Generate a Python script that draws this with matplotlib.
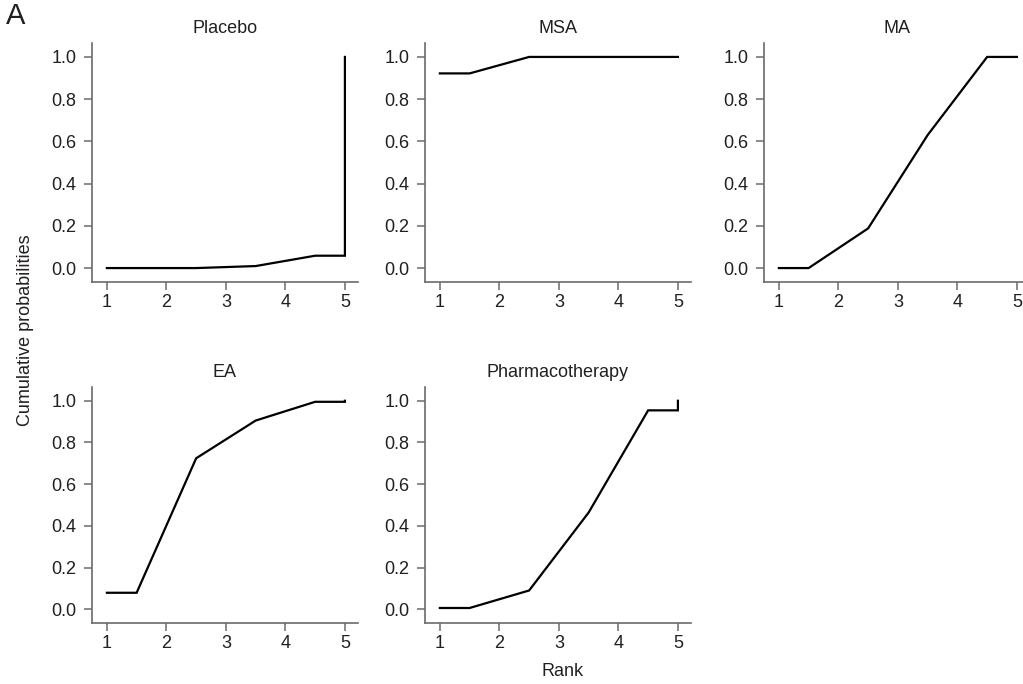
import numpy as np
import matplotlib
matplotlib.use("Agg")
import matplotlib.pyplot as plt

plt.rcParams['font.family'] = ['Liberation Sans', 'DejaVu Sans']

# Cumulative ranking probabilities (rank 1..5) for each treatment
treatments = ["Placebo", "MSA", "MA", "EA", "Pharmacotherapy"]
ranks = [1, 2, 3, 4, 5]
placebo = [0.0, 0.0, 0.0095, 0.0585, 1.0]
msa = [0.922, 1.0, 1.0, 1.0, 1.0]
ma = [0.0, 0.188, 0.63, 1.0, 1.0]
ea = [0.079, 0.724, 0.905, 0.995, 1.0]
pharmacotherapy = [0.006, 0.09, 0.464, 0.954, 1.0]
series = [placebo, msa, ma, ea, pharmacotherapy]
yticks = [0.0, 0.2, 0.4, 0.6, 0.8, 1.0]

W, H = 1023, 684
fig = plt.figure(figsize=(W / 100, H / 100), dpi=100)

# axes boxes in pixels: left, right, top, bottom
boxes = [
    (92, 358, 43, 282),
    (425, 691, 43, 282),
    (764, 1030, 43, 282),
    (92, 358, 387, 623),
    (425, 691, 387, 623),
]

def cumrank_path(r, c):
    """Stata-style cumulative ranking curve: flat half-steps at both ends."""
    r = np.asarray(r, float)
    c = np.asarray(c, float)
    mids = (r[:-1] + r[1:]) / 2.0
    xs = np.concatenate([[r[0]], mids, [r[-1]], [r[-1]]])
    ys = np.concatenate([[c[0]], c[:-1], [c[-2]], [c[-1]]])
    return xs, ys

spine_col = "#6b6b6b"
text_col = "#231f20"
fs = 13

for name, vals, (l, r, t, b) in zip(treatments, series, boxes):
    ax = fig.add_axes([l / W, 1 - b / H, (r - l) / W, (b - t) / H])
    xs, ys = cumrank_path(ranks, vals)
    ax.plot(xs, ys, color="black", lw=1.6, solid_joinstyle="miter")
    ax.set_xlim(0.75, 5.22)
    ax.set_ylim(-0.066, 1.066)
    ax.set_xticks(ranks)
    ax.set_yticks(yticks)
    ax.set_yticklabels([f"{v:.1f}" for v in yticks])
    for s in ("top", "right"):
        ax.spines[s].set_visible(False)
    for s in ("left", "bottom"):
        ax.spines[s].set_color(spine_col)
        ax.spines[s].set_linewidth(1.2)
    ax.tick_params(direction="out", length=6, width=1.1, color=spine_col,
                   labelsize=fs, labelcolor=text_col)
    ax.tick_params(axis="y", pad=5)
    ax.tick_params(axis="x", pad=3)
    ax.set_title(name, fontsize=fs, color=text_col, pad=7)

fig.text(26 / W, 1 - 330 / H, "Cumulative probabilities", rotation=90,
         ha="center", va="center", fontsize=fs, color=text_col)
fig.text(563 / W, 1 - 672 / H, "Rank", ha="center", va="center",
         fontsize=fs, color=text_col)
fig.text(6 / W, 1 - 16 / H, "A", ha="left", va="center", fontsize=21,
         color=text_col)

fig.savefig("out.png", dpi=100)
